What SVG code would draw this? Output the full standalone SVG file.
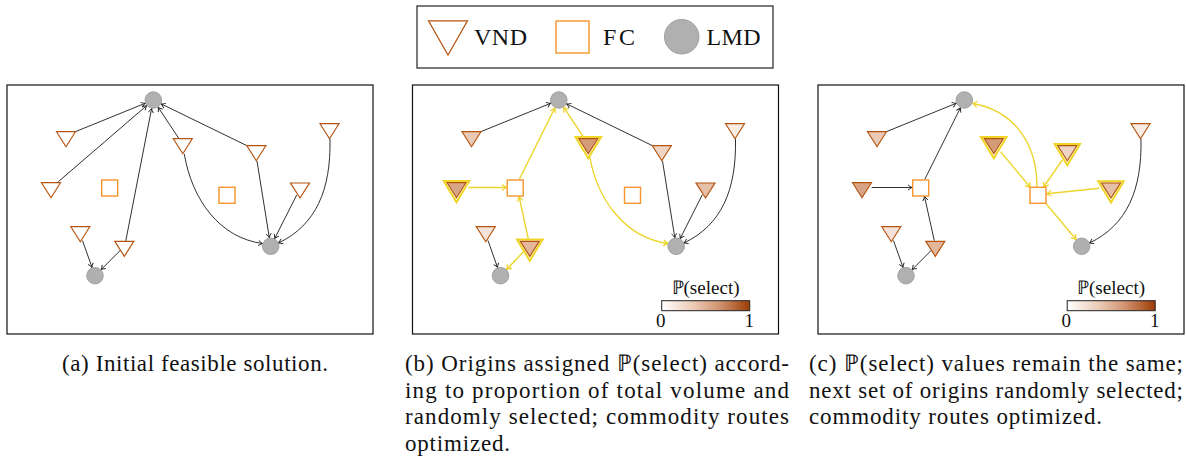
<svg xmlns="http://www.w3.org/2000/svg" width="1186" height="458" viewBox="0 0 1186 458">
<style>
text{font-family:"Liberation Serif","Times New Roman",serif;fill:#111}
.frame{fill:#fff;stroke:#111;stroke-width:1.2}
.vnd{stroke:#b5530f;stroke-width:1.2}
.hl{fill:#fffbe6;stroke:#efd526;stroke-width:2}
.fc{fill:#fff;stroke:#f7952e;stroke-width:1.4}
.lmd{fill:#b0b0b0;stroke:#959595;stroke-width:0.8}
.ek{fill:none;stroke:#1a1a1a;stroke-width:0.9;marker-end:url(#ak)}
.ey{fill:none;stroke:#edd52e;stroke-width:1.4;marker-end:url(#ay)}
.cap{font-size:23px}
.cb{font-size:19px}
</style>
<defs>
<path id="tri" d="M-9.5,0 L9.5,0 L0,15 Z"/>
<path id="trihl" d="M-12.8,-1.8 L12.8,-1.8 L0,19.6 Z"/>
<marker id="ak" viewBox="-5 -4 6 8" refX="0" refY="0" markerWidth="6" markerHeight="8" markerUnits="userSpaceOnUse" orient="auto">
<path d="M-4,-2.6 Q-1.5,-0.6 0,0 Q-1.5,0.6 -4,2.6" fill="none" stroke="#1a1a1a" stroke-width="0.9"/>
</marker>
<marker id="ay" viewBox="-6 -4 7 8" refX="0" refY="0" markerWidth="7" markerHeight="8" markerUnits="userSpaceOnUse" orient="auto">
<path d="M-4.5,-3 Q-1.7,-0.7 0,0 Q-1.7,0.7 -4.5,3" fill="none" stroke="#edd52e" stroke-width="1.3"/>
</marker>
<linearGradient id="cmap" x1="0" x2="1" y1="0" y2="0">
<stop offset="0" stop-color="#ffffff"/>
<stop offset="0.35" stop-color="#ecccb8"/>
<stop offset="0.65" stop-color="#d29572"/>
<stop offset="1" stop-color="#9c3d06"/>
</linearGradient>
</defs>
<rect width="1186" height="458" fill="#fff"/>

<!-- Legend -->
<g id="legend">
<rect x="417" y="6" width="356" height="62" fill="#fff" stroke="#333" stroke-width="1.3"/>
<path d="M428.5,20.8 L467.5,20.8 L448,55 Z" fill="#fff" class="vnd"/>
<text x="474" y="45" font-size="24" textLength="53" lengthAdjust="spacing">VND</text>
<rect x="556" y="21" width="33" height="32" class="fc"/>
<text x="603" y="45" font-size="24" textLength="32" lengthAdjust="spacing">FC</text>
<circle cx="681.7" cy="36.7" r="17.3" class="lmd"/>
<text x="706.5" y="45" font-size="24" textLength="54" lengthAdjust="spacing">LMD</text>
</g>

<!-- Panel (a) -->
<g id="panel-a">
<rect x="7" y="85" width="366" height="249" class="frame"/>
<g id="a-connectors">
<path class="ek" d="M75.3,131.7 L145.2,103.3"/>
<path class="ek" d="M58.3,181.7 L146.6,105.7"/>
<path class="ek" d="M125.7,241.3 L151.6,108.6"/>
<path class="ek" d="M179,138.7 L158.2,107.3"/>
<path class="ek" d="M247,145.7 L161.2,103.9"/>
<path class="ek" d="M82.5,240.5 L92,267.4"/>
<path class="ek" d="M120.7,250 L101.2,269.5"/>
<path class="ek" d="M184.3,154 C192,200 220,238 262.5,243.5"/>
<path class="ek" d="M257,161 L269.3,237.6"/>
<path class="ek" d="M296.7,195 L274.7,238.5"/>
<path class="ek" d="M330,139 C331,190 316,225 278.5,243"/>
</g>
<g id="a-lmd1"><circle cx="153.3" cy="100" r="8.3" class="lmd"/></g>
<g id="a-lmd2"><circle cx="95" cy="275.7" r="8.3" class="lmd"/></g>
<g id="a-lmd3"><circle cx="270.7" cy="246.3" r="8.3" class="lmd"/></g>
<g id="a-fc1"><rect x="101.7" y="180" width="16" height="16" class="fc"/></g>
<g id="a-fc2"><rect x="219" y="187.3" width="16" height="16" class="fc"/></g>
<g id="a-vnd1"><use href="#tri" x="66" y="131.7" fill="#fff" class="vnd"/></g>
<g id="a-vnd2"><use href="#tri" x="51" y="182.7" fill="#fff" class="vnd"/></g>
<g id="a-vnd3"><use href="#tri" x="80.3" y="226.7" fill="#fff" class="vnd"/></g>
<g id="a-vnd4"><use href="#tri" x="124.3" y="241.3" fill="#fff" class="vnd"/></g>
<g id="a-vnd5"><use href="#tri" x="182.8" y="138.7" fill="#fff" class="vnd"/></g>
<g id="a-vnd6"><use href="#tri" x="256.3" y="145.7" fill="#fff" class="vnd"/></g>
<g id="a-vnd7"><use href="#tri" x="300" y="183" fill="#fff" class="vnd"/></g>
<g id="a-vnd8"><use href="#tri" x="329.5" y="123.7" fill="#fff" class="vnd"/></g>
</g>

<!-- Panel (b) -->
<g id="panel-b" transform="translate(405.5,0)">
<rect x="7" y="85" width="366" height="249" class="frame"/>
<g id="b-connectors">
<path class="ek" d="M75.3,131.7 L145.2,103.3"/>
<path class="ey" d="M63,187.5 L101,187.5"/>
<path class="ey" d="M113.8,179.3 L149.4,107.9"/>
<path class="ey" d="M122.8,238.8 L113.5,196.5"/>
<path class="ey" d="M118.8,250.7 L101.2,269.5"/>
<path class="ek" d="M82.5,240.5 L92,267.4"/>
<path class="ey" d="M177.6,136.3 L158.2,107.3"/>
<path class="ey" d="M184.3,157 C192,200 220,238 262.5,243.5"/>
<path class="ek" d="M247,145.7 L161.2,103.9"/>
<path class="ek" d="M257,161 L269.3,237.6"/>
<path class="ek" d="M296.7,195 L274.7,238.5"/>
<path class="ek" d="M330,139 C331,190 316,225 278.5,243"/>
</g>
<g id="b-lmd1"><circle cx="153.3" cy="100" r="8.3" class="lmd"/></g>
<g id="b-lmd2"><circle cx="95" cy="275.7" r="8.3" class="lmd"/></g>
<g id="b-lmd3"><circle cx="270.7" cy="246.3" r="8.3" class="lmd"/></g>
<g id="b-fc1"><rect x="101.7" y="180" width="16" height="16" class="fc"/></g>
<g id="b-fc2"><rect x="219" y="187.3" width="16" height="16" class="fc"/></g>
<g id="b-vnd1"><use href="#tri" x="66" y="131.7" fill="#eacab6" class="vnd"/></g>
<g id="b-vnd2"><use href="#trihl" x="51" y="182.7" class="hl"/><use href="#tri" x="51" y="182.7" fill="#d7a485" class="vnd"/></g>
<g id="b-vnd3"><use href="#tri" x="80.3" y="226.7" fill="#f4e2d8" class="vnd"/></g>
<g id="b-vnd4"><use href="#trihl" x="124.3" y="241.3" class="hl"/><use href="#tri" x="124.3" y="241.3" fill="#e2b79c" class="vnd"/></g>
<g id="b-vnd5"><use href="#trihl" x="182.8" y="138.7" class="hl"/><use href="#tri" x="182.8" y="138.7" fill="#d49b79" class="vnd"/></g>
<g id="b-vnd6"><use href="#tri" x="256.3" y="145.7" fill="#eed4c4" class="vnd"/></g>
<g id="b-vnd7"><use href="#tri" x="300" y="183" fill="#e5bfa7" class="vnd"/></g>
<g id="b-vnd8"><use href="#tri" x="329.5" y="123.7" fill="#f8ece5" class="vnd"/></g>
<g id="b-colorbar">
<text x="266" y="294" class="cb" textLength="68" lengthAdjust="spacingAndGlyphs">ℙ(select)</text>
<rect x="256.2" y="300.7" width="88" height="10" fill="url(#cmap)" stroke="#222" stroke-width="1"/>
<text x="255.2" y="327" class="cb" text-anchor="middle">0</text>
<text x="343.8" y="327" class="cb" text-anchor="middle">1</text>
</g>
</g>

<!-- Panel (c) -->
<g id="panel-c" transform="translate(811,0)">
<rect x="7" y="85" width="366" height="249" class="frame"/>
<g id="c-connectors">
<path class="ek" d="M75.3,131.7 L145.2,103.3"/>
<path class="ek" d="M60.7,187.5 L101,187.5"/>
<path class="ek" d="M113.8,179.3 L149.4,107.9"/>
<path class="ek" d="M123.3,240.7 L113.5,196.5"/>
<path class="ek" d="M120.7,250 L101.2,269.5"/>
<path class="ek" d="M82.5,240.5 L92,267.4"/>
<path class="ey" d="M189.7,151.7 L219.3,187.3"/>
<path class="ey" d="M251.3,160 L232.6,187"/>
<path class="ey" d="M288.3,188.3 L235.8,193.8"/>
<path class="ey" d="M226,187 C226,140 200,110 161.7,103.5"/>
<path class="ey" d="M234.3,202.7 L265.1,239.5"/>
<path class="ek" d="M330,139 C331,190 316,225 278.5,243"/>
</g>
<g id="c-lmd1"><circle cx="153.3" cy="100" r="8.3" class="lmd"/></g>
<g id="c-lmd2"><circle cx="95" cy="275.7" r="8.3" class="lmd"/></g>
<g id="c-lmd3"><circle cx="270.7" cy="246.3" r="8.3" class="lmd"/></g>
<g id="c-fc1"><rect x="101.7" y="180" width="16" height="16" class="fc"/></g>
<g id="c-fc2"><rect x="219" y="187.3" width="16" height="16" class="fc"/></g>
<g id="c-vnd1"><use href="#tri" x="66" y="131.7" fill="#eacab6" class="vnd"/></g>
<g id="c-vnd2"><use href="#tri" x="51" y="182.7" fill="#d7a485" class="vnd"/></g>
<g id="c-vnd3"><use href="#tri" x="80.3" y="226.7" fill="#f4e2d8" class="vnd"/></g>
<g id="c-vnd4"><use href="#tri" x="124.3" y="241.3" fill="#e2b79c" class="vnd"/></g>
<g id="c-vnd5"><use href="#trihl" x="182.8" y="138.7" class="hl"/><use href="#tri" x="182.8" y="138.7" fill="#d49b79" class="vnd"/></g>
<g id="c-vnd6"><use href="#trihl" x="256.3" y="145.7" class="hl"/><use href="#tri" x="256.3" y="145.7" fill="#eed4c4" class="vnd"/></g>
<g id="c-vnd7"><use href="#trihl" x="300" y="183" class="hl"/><use href="#tri" x="300" y="183" fill="#e5bfa7" class="vnd"/></g>
<g id="c-vnd8"><use href="#tri" x="329.5" y="123.7" fill="#f8ece5" class="vnd"/></g>
<g id="c-colorbar">
<text x="266" y="294" class="cb" textLength="68" lengthAdjust="spacingAndGlyphs">ℙ(select)</text>
<rect x="256.2" y="300.7" width="88" height="10" fill="url(#cmap)" stroke="#222" stroke-width="1"/>
<text x="255.2" y="327" class="cb" text-anchor="middle">0</text>
<text x="343.8" y="327" class="cb" text-anchor="middle">1</text>
</g>
</g>

<!-- Captions -->
<g id="captions">
<text x="62" y="371" class="cap" textLength="266" lengthAdjust="spacing">(a) Initial feasible solution.</text>
<text x="405" y="371" class="cap" textLength="384" lengthAdjust="spacing">(b) Origins assigned ℙ(select) accord-</text>
<text x="405" y="397.5" class="cap" textLength="384" lengthAdjust="spacing">ing to proportion of total volume and</text>
<text x="405" y="424" class="cap" textLength="384" lengthAdjust="spacing">randomly selected; commodity routes</text>
<text x="405" y="450.5" class="cap" textLength="105" lengthAdjust="spacing">optimized.</text>
<text x="809" y="371" class="cap" textLength="374" lengthAdjust="spacing">(c) ℙ(select) values remain the same;</text>
<text x="809" y="397.5" class="cap" textLength="374" lengthAdjust="spacing">next set of origins randomly selected;</text>
<text x="809" y="424" class="cap" textLength="293" lengthAdjust="spacing">commodity routes optimized.</text>
</g>
</svg>
